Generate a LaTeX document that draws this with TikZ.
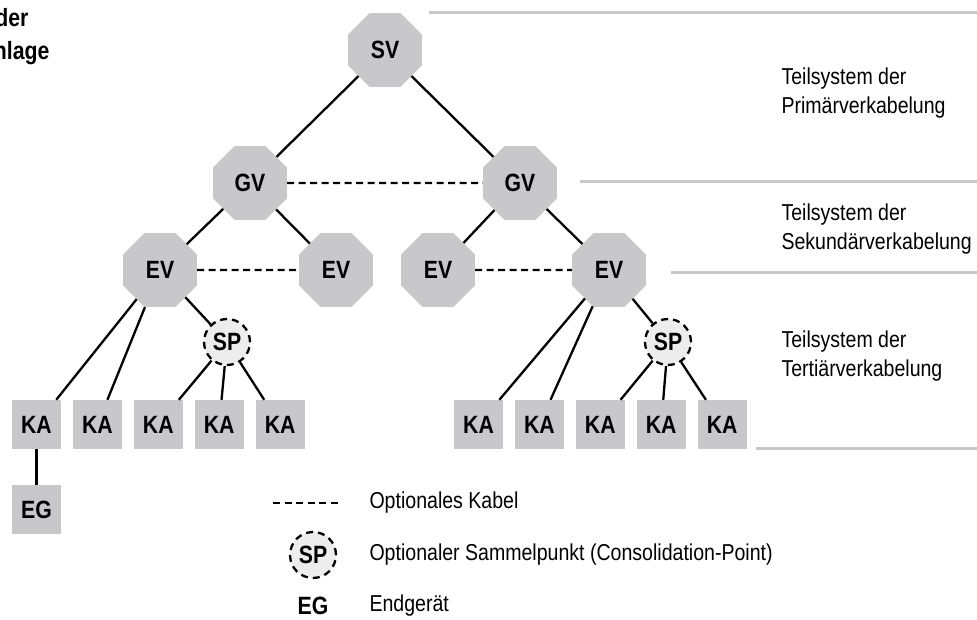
\documentclass[tikz,border=0pt]{standalone}
\usepackage{fontspec}
\setmainfont{Liberation Sans}[FakeStretch=0.85]
\usetikzlibrary{shapes.geometric, positioning}
\definecolor{nodegray}{RGB}{200,200,202}
\definecolor{spgray}{RGB}{237,237,237}
\definecolor{rulegray}{RGB}{200,200,200}
\tikzstyle{octa} = [regular polygon, regular polygon sides=8, minimum size=80pt, inner sep=0pt, fill=nodegray, font=\fontsize{25}{29}\selectfont\bfseries]
\tikzstyle{kabox} = [rectangle, minimum width=49pt, minimum height=49pt, inner sep=0pt, fill=nodegray, font=\fontsize{25}{29}\selectfont\bfseries]
\tikzstyle{cpoint} = [circle, minimum size=46pt, inner sep=0pt, fill=spgray, draw=black, line width=2.3pt, dash pattern=on 7pt off 5pt, font=\fontsize{25}{29}\selectfont\bfseries]
\tikzstyle{cable} = [line width=2.3pt]
\tikzstyle{optcable} = [line width=2.3pt, dash pattern=on 7pt off 4.5pt]
\tikzstyle{divider} = [line width=3pt, draw=rulegray]
\tikzstyle{sysnote} = [anchor=west, align=left, font=\fontsize{23}{29}\selectfont]
\tikzstyle{titletext} = [anchor=base east, font=\fontsize{25}{29}\selectfont\bfseries]

\begin{document}
\begin{tikzpicture}[x=1pt, y=-1pt, node distance=11.5pt]
\useasboundingbox (0,0) rectangle (977,620);

\node (titleA) [titletext] at (32,27) {der};
\node (titleB) [titletext] at (53,60) {nlage};

% Verteiler
\node (sv) [octa] at (385,50) {SV};
\node (gvl) [octa] at (250,183) {GV};
\node (gvr) [octa] at (520,183) {GV};
\node (eva) [octa] at (160,270) {EV};
\node (evb) [octa] at (336,270) {EV};
\node (evc) [octa] at (438,270) {EV};
\node (evd) [octa] at (609,270) {EV};
\node (spl) [cpoint] at (227,342) {SP};
\node (spr) [cpoint] at (668,342) {SP};

% Anschluesse links
\node (kaa) [kabox] at (36.5,424.5) {KA};
\node (kab) [kabox, right=of kaa] {KA};
\node (kac) [kabox, right=of kab] {KA};
\node (kad) [kabox, right=of kac] {KA};
\node (kae) [kabox, right=of kad] {KA};
\node (eg) [kabox, below=36pt of kaa] {EG};

% Anschluesse rechts
\node (kaf) [kabox] at (478.5,424.5) {KA};
\node (kag) [kabox, right=of kaf] {KA};
\node (kah) [kabox, right=of kag] {KA};
\node (kai) [kabox, right=of kah] {KA};
\node (kaj) [kabox, right=of kai] {KA};

\draw [cable] (sv) -- (gvl);
\draw [cable] (sv) -- (gvr);
\draw [cable] (gvl) -- (eva);
\draw [cable] (gvl) -- (evb);
\draw [cable] (gvr) -- (evc);
\draw [cable] (gvr) -- (evd);
\draw [cable] (eva) -- (kaa);
\draw [cable] (eva) -- (kab);
\draw [cable] (eva) -- (spl);
\draw [cable] (spl) -- (kac);
\draw [cable] (spl) -- (kad);
\draw [cable] (spl) -- (kae);
\draw [cable] (kaa) -- (eg);
\draw [cable] (evd) -- (kaf);
\draw [cable] (evd) -- (kag);
\draw [cable] (evd) -- (spr);
\draw [cable] (spr) -- (kah);
\draw [cable] (spr) -- (kai);
\draw [cable] (spr) -- (kaj);

\draw [optcable] (gvl) -- (gvr);
\draw [optcable] (eva) -- (evb);
\draw [optcable] (evc) -- (evd);

% Teilsysteme
\foreach \xs/\ys in {429/13, 580/182, 671/273, 756/448}
  \draw [divider] (\xs,\ys) -- (977,\ys);
\node (prim) [sysnote] at (778,93) {Teilsystem der\\Primärverkabelung};
\node (sek) [sysnote] at (778,229) {Teilsystem der\\Sekundärverkabelung};
\node (tert) [sysnote] at (778,356) {Teilsystem der\\Tertiärverkabelung};

% Legende
\coordinate (dashA) at (273,503);
\coordinate (dashB) at (342,503);
\draw [optcable] (dashA) -- (dashB);
\node (legkabel) [sysnote] at (366,503) {Optionales Kabel};
\node (legsp) [cpoint] at (313,555) {SP};
\node (legsptext) [sysnote] at (366,555) {Optionaler Sammelpunkt (Consolidation-Point)};
\node (legeg) [font=\fontsize{25}{29}\selectfont\bfseries] at (313,606) {EG};
\node (legegtext) [sysnote] at (366,606) {Endgerät};
\end{tikzpicture}
\end{document}
